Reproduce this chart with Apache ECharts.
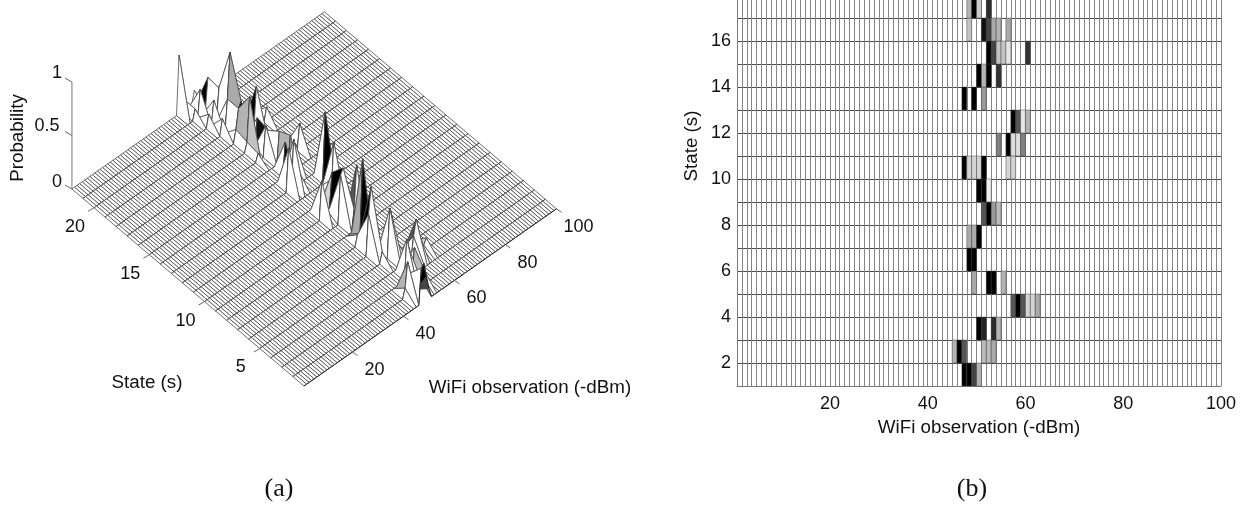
<!DOCTYPE html>
<html><head><meta charset="utf-8">
<style>html,body{margin:0;padding:0;background:#fff}#c{width:1243px;height:505px}</style>
<script src="https://cdn.jsdelivr.net/npm/echarts@6/dist/echarts.min.js"></script>
</head><body><div id="c"></div>
<script>
// ---- data ----
const wifiMin = 1, wifiMax = 100, stateMin = 1, stateMax = 22, visibleStateMax = 18;
const rowStates = [1,2,3,4,5,6,7,8,9,10,11,12,13,14,15,16,17,18,19,20,21,22];
const rowBins = [
 [47,48,49,50],
 [45,46,47,51,52,53],
 [50,51,53,54],
 [57,58,59,60,61,62],
 [49,52,53,55],
 [48,49],
 [48,49,50],
 [51,52,53,54],
 [50,51,52],
 [47,48,49,50,51,56,57],
 [54,56,57,58,59],
 [57,58,59,60],
 [47,49,51],
 [50,51,52,54],
 [52,53,54,55,56,60],
 [48,51,52,53,54,56],
 [48,49,50,52],
 [48,49,50,51,53,56,60],
 [47,49,50,53],
 [46,48,50,53],
 [45,47,49,50,52],
 [43,45,49,53]
];
const rowProbs = [
 [.33,.36,.22,.09],
 [.09,.32,.20,.08,.08,.10],
 [.38,.26,.25,.09],
 [.20,.34,.20,.05,.05,.10],
 [.10,.46,.35,.09],
 [.38,.62],
 [.10,.10,.78],
 [.20,.60,.12,.08],
 [.45,.50,.02],
 [.36,.05,.05,.05,.37,.05,.05],
 [.15,.48,.04,.04,.15],
 [.66,.20,.03,.09],
 [.40,.45,.12],
 [.32,.09,.35,.24],
 [.30,.22,.07,.07,.03,.24],
 [.07,.28,.22,.10,.09,.10],
 [.09,.50,.06,.25],
 [.12,.30,.35,.15,.08,.39,.13],
 [.15,.30,.72,.10],
 [.12,.22,.30,.12],
 [.10,.25,.02,.31,.20],
 [.55,.10,.12,.08]
];
// rows above the cropped top of panel (b): tints seen only on the surface in panel (a)
const tintCells = [[53,18,.11],[53,19,.11],[50,20,.12],[49,21,.35],[49,18,.1],[55,18,.35]];
const probTicks = [0, 0.5, 1];
const wifiTicks3d = [20,40,60,80,100];
const stateTicks3d = [5,10,15,20];
const wifiTicks2d = [20,40,60,80,100];
const stateTicks2d = [2,4,6,8,10,12,14,16,18];

// ---- helpers ----
const FONT = '"Liberation Sans", Arial, sans-serif';
const probAt = (x, s) => {
  const i = s - stateMin; if (i < 0 || i >= rowBins.length) return 0;
  const k = rowBins[i].indexOf(x); return k < 0 ? 0 : rowProbs[i][k];
};
const tintAt = (x, s) => {
  if (s < visibleStateMax) return probAt(x, s);
  const t = tintCells.find(c => c[0] === x && c[1] === s); return t ? t[2] : 0;
};
const shade = p => { const g = Math.round(255 * (1 - Math.min(1, p / 0.3))); return `rgb(${g},${g},${g})`; };
// oblique view used for panel (a): maps (wifi, state, probability) into a hidden value grid
const view = {ux: 2.55, us: -11.05, vx: 1.79, vs: 9.38, vz: 107};
const pu = (x, s) => (x - wifiMin) * view.ux + (s - stateMin) * view.us;
const pv = (x, s, z) => (x - wifiMin) * view.vx + (s - stateMin) * view.vs + z * view.vz;

// painter's order: far rows and far bins first
const meshData = [];
for (let s = stateMax - 1; s >= stateMin; s--)
  for (let x = wifiMax - 1; x >= wifiMin; x--) meshData.push([x, s]);

const cells2d = [];
rowStates.forEach((s, i) => { if (s < visibleStateMax) rowBins[i].forEach((x, k) => cells2d.push([x, s, rowProbs[i][k]])); });

const renderMesh = (params, api) => {
  const x = api.value(0), s = api.value(1);
  const corner = (a, b) => api.coord([pu(a, b), pv(a, b, probAt(a, b))]);
  const c0 = corner(x, s), c1 = corner(x + 1, s), c2 = corner(x + 1, s + 1), c3 = corner(x, s + 1);
  return {type: 'group', silent: true, children: [
    {type: 'polygon', shape: {points: [c0, c1, c2, c3]}, style: {fill: shade(tintAt(x, s)), stroke: '#4a4a4a', lineWidth: 0.8}},
    {type: 'line', shape: {x1: c0[0], y1: c0[1], x2: c1[0], y2: c1[1]}, style: {stroke: '#222', lineWidth: 1}}
  ]};
};
const renderCell = (params, api) => {
  const x = api.value(0), s = api.value(1);
  const a = api.coord([x, s + 1]), b = api.coord([x + 1, s]);
  return {type: 'rect', silent: true,
    shape: {x: a[0], y: a[1], width: b[0] - a[0], height: b[1] - a[1]},
    style: {fill: shade(api.value(2)), stroke: 'rgba(60,60,60,0.55)', lineWidth: 0.8}};
};
const tickItem = (api, base, dx, dy, lx, ly, text) => {
  const p = api.coord(base);
  return {type: 'group', silent: true, children: [
    {type: 'line', shape: {x1: p[0], y1: p[1], x2: p[0] + dx, y2: p[1] + dy}, style: {stroke: '#666', lineWidth: 1}},
    {type: 'text', style: {x: p[0] + lx, y: p[1] + ly, text, font: '18px ' + FONT, fill: '#111', textAlign: 'center', textVerticalAlign: 'middle'}}
  ]};
};
const tickSeries = (data, render) => ({type: 'custom', xAxisIndex: 0, yAxisIndex: 0, coordinateSystem: 'cartesian2d', silent: true, z: 5, clip: false, data, renderItem: render});
const gtext = (x, y, text, size, family, rot) => ({type: 'text', x, y, rotation: rot || 0, silent: true,
  style: {text, fill: '#111', font: size + 'px ' + family, textAlign: 'center', textVerticalAlign: 'middle'}});

const chart = echarts.init(document.getElementById('c'));
chart.setOption({
  animation: false, backgroundColor: '#fff',
  grid: [
    {left: 0, top: 0, width: 640, height: 505, show: false, outerBoundsMode: 'none'},
    {left: 737, top: -5, width: 484, height: 391, show: false, outerBoundsMode: 'none'}
  ],
  xAxis: [
    {gridIndex: 0, type: 'value', min: -304, max: 336, show: false},
    {gridIndex: 1, type: 'value', min: wifiMin, max: wifiMax, interval: 1,
     axisLine: {onZero: false, lineStyle: {color: '#777', width: 1}}, axisTick: {show: false},
     splitLine: {show: true, lineStyle: {color: '#858585', width: 1}},
     axisLabel: {interval: 0, hideOverlap: false, margin: 9, fontSize: 18, fontFamily: FONT, color: '#111',
       formatter: v => wifiTicks2d.includes(v) ? String(v) : ''},
     name: 'WiFi observation (-dBm)', nameLocation: 'middle', nameGap: 32,
     nameTextStyle: {fontSize: 18.8, fontFamily: FONT, color: '#111'}}
  ],
  yAxis: [
    {gridIndex: 0, type: 'value', min: -119, max: 386, show: false},
    {gridIndex: 1, type: 'value', min: stateMin, max: visibleStateMax, interval: 1,
     axisLine: {onZero: false, lineStyle: {color: '#777', width: 1}}, axisTick: {show: false},
     splitLine: {show: true, lineStyle: {color: '#4a4a4a', width: 1}},
     axisLabel: {interval: 0, hideOverlap: false, margin: 6, fontSize: 18, fontFamily: FONT, color: '#111',
       formatter: v => stateTicks2d.includes(v) ? String(v) : ''}}
  ],
  series: [
    {type: 'custom', coordinateSystem: 'cartesian2d', xAxisIndex: 0, yAxisIndex: 0, silent: true, clip: false,
     progressive: 0, data: meshData, renderItem: renderMesh},
    {type: 'custom', coordinateSystem: 'cartesian2d', xAxisIndex: 1, yAxisIndex: 1, silent: true, z: 3,
     progressive: 0, data: cells2d, encode: {x: 0, y: 1}, renderItem: renderCell},
    tickSeries(wifiTicks3d.map(v => [v]), (p, api) => { const x = api.value(0);
      return tickItem(api, [pu(x, stateMin), pv(x, stateMin, 0)], 5, 3.5, 22, 18, String(x)); }),
    tickSeries(stateTicks3d.map(v => [v]), (p, api) => { const s = api.value(0);
      return tickItem(api, [pu(wifiMin, s), pv(wifiMin, s, 0)], -6, 3.5, -19, 19, String(s)); }),
    tickSeries(probTicks.map(v => [v]), (p, api) => { const z = api.value(0);
      return tickItem(api, [pu(wifiMin, stateMax), pv(wifiMin, stateMax, z)], -7, -4, z === 0.5 ? -25 : -15, z === 0 ? -7 : -9, String(z)); }),
    {type: 'custom', coordinateSystem: 'cartesian2d', xAxisIndex: 0, yAxisIndex: 0, silent: true, z: 4, clip: false,
     data: [[probTicks[0], probTicks[2]]],
     renderItem: (p, api) => { const a = api.coord([pu(wifiMin, stateMax), pv(wifiMin, stateMax, api.value(0))]), b = api.coord([pu(wifiMin, stateMax), pv(wifiMin, stateMax, api.value(1))]);
       return {type: 'line', shape: {x1: a[0], y1: a[1], x2: b[0], y2: b[1]}, style: {stroke: '#777', lineWidth: 1}}; }}
  ],
  graphic: [
    gtext(18, 138, 'Probability', 18.8, FONT, Math.PI / 2),
    gtext(147, 383, 'State (s)', 18.8, FONT),
    gtext(530, 388, 'WiFi observation (-dBm)', 18.8, FONT),
    gtext(692, 146, 'State (s)', 18.8, FONT, Math.PI / 2),
    gtext(279, 489, '(a)', 26, '"Liberation Serif", serif'),
    gtext(972, 489, '(b)', 26, '"Liberation Serif", serif')
  ]
});
</script></body></html>
